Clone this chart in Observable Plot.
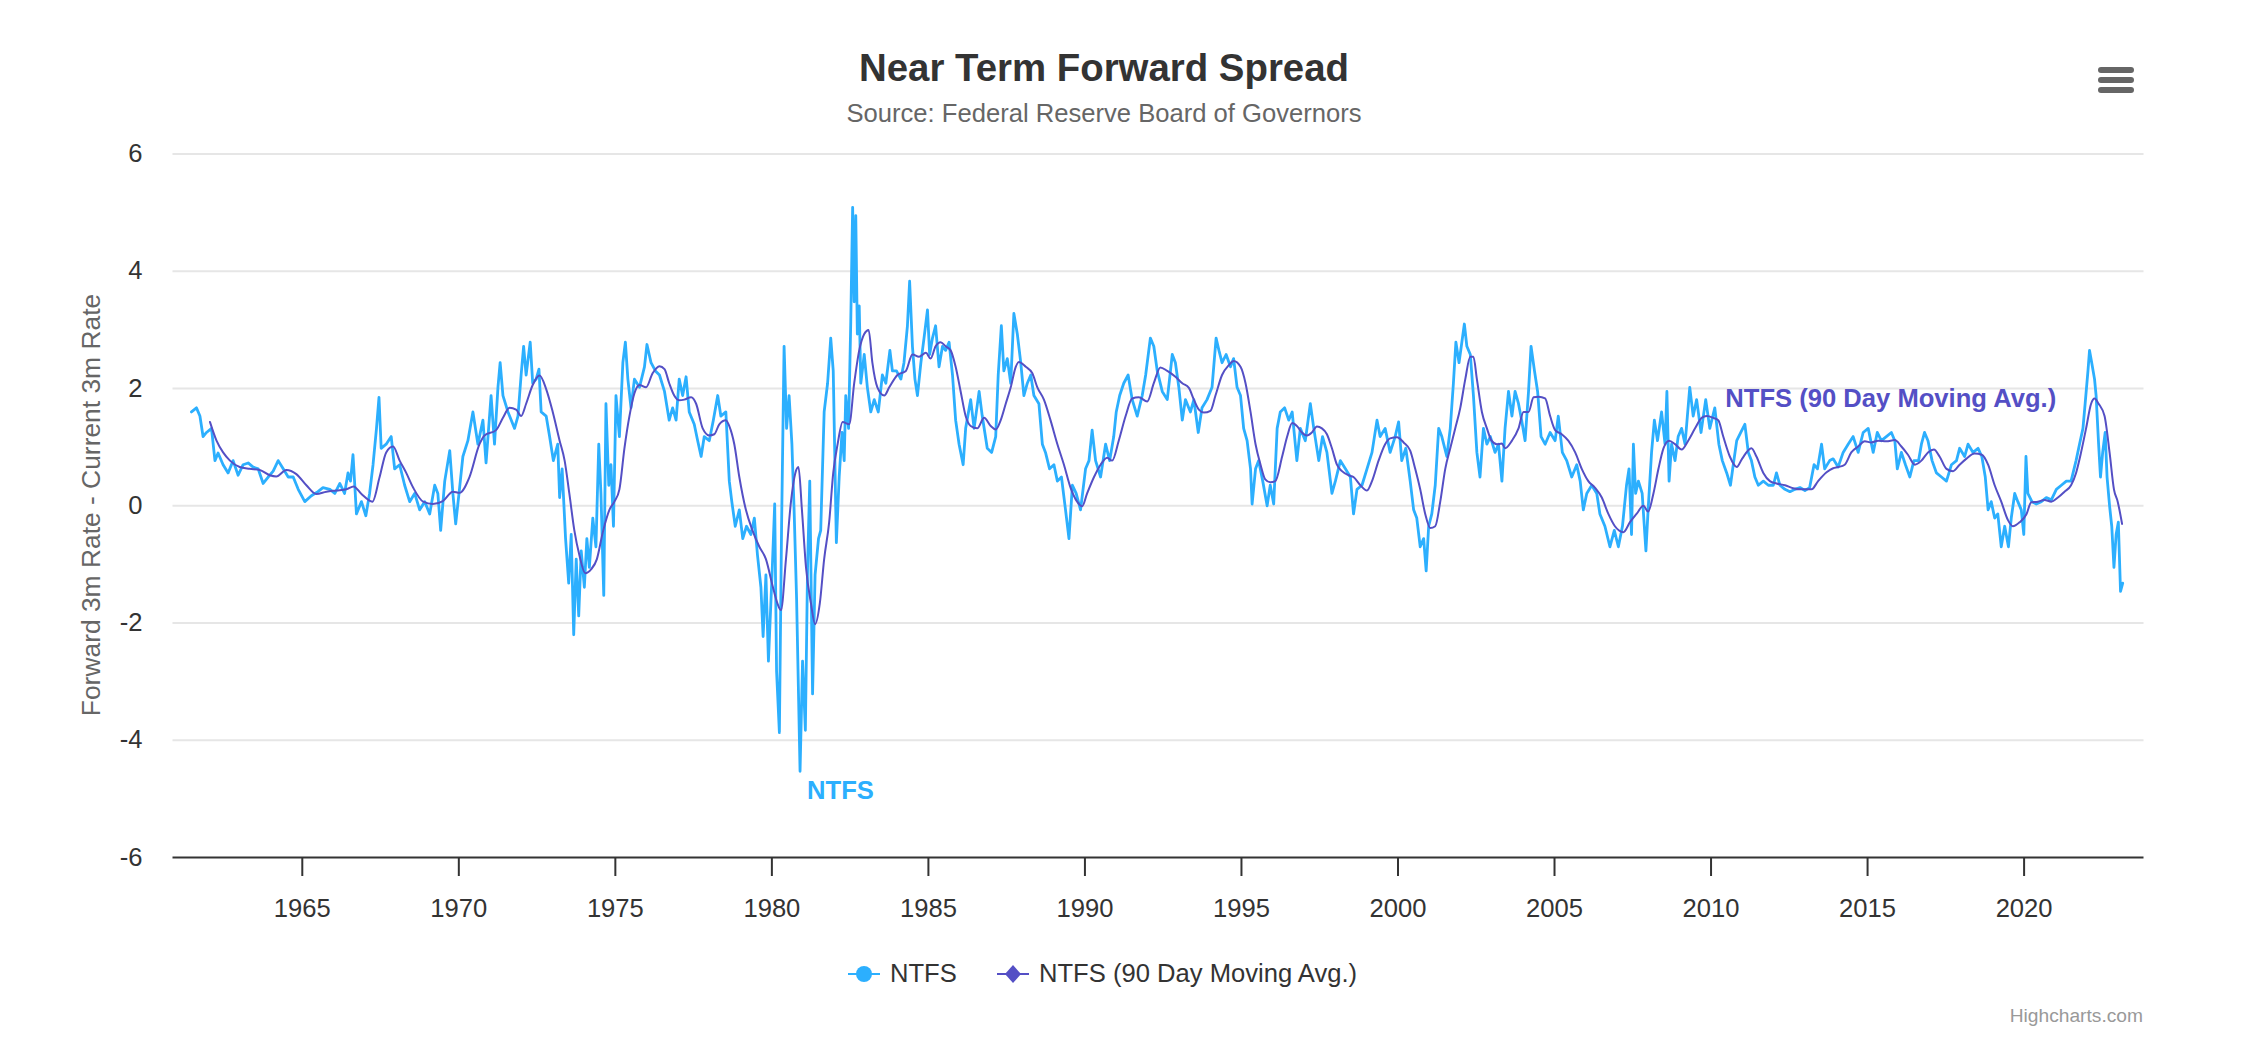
<!DOCTYPE html>
<html>
<head>
<meta charset="utf-8">
<script src="https://cdn.jsdelivr.net/npm/d3@7"></script>
<script src="https://cdn.jsdelivr.net/npm/@observablehq/plot@0.6"></script>
<style>
  html, body { margin: 0; padding: 0; background: #fff; overflow: hidden; }
  #wrap { position: relative; width: 2252px; height: 1038px; overflow: hidden;
          font-family: "Liberation Sans", Arial, Helvetica, sans-serif; }
  .abs { position: absolute; white-space: nowrap; line-height: 1; }
  #title { left: 0; width: 2208px; top: 49px; text-align: center; font-size: 38.4px; font-weight: bold; color: #333; }
  #subtitle { left: 0; width: 2208px; top: 101px; text-align: center; font-size: 25.6px; color: #666; }
  #ytitle { left: 91px; top: 505px; font-size: 26.4px; color: #666; transform: translate(-50%, -50%) rotate(-90deg); }
  #chart { position: absolute; left: 0; top: 130px; }
  .legtext { font-size: 25.6px; color: #333; top: 961px; }
  #credits { right: 109px; top: 1006px; font-size: 19.2px; color: #999; }
  .bar { position: absolute; left: 2098px; width: 36px; height: 6px; border-radius: 3px; background: #666; }
</style>
</head>
<body>
<div id="wrap">
  <div id="title" class="abs">Near Term Forward Spread</div>
  <div id="subtitle" class="abs">Source: Federal Reserve Board of Governors</div>
  <div id="ytitle" class="abs">Forward 3m Rate - Current 3m Rate</div>
  <div class="bar" style="top:67px"></div>
  <div class="bar" style="top:77px"></div>
  <div class="bar" style="top:87px"></div>
  <div id="chart"></div>
  <svg class="abs" style="left:847px;top:962px" width="34" height="24">
    <line x1="1" y1="12" x2="33" y2="12" stroke="#2caffe" stroke-width="2"/>
    <circle cx="17" cy="12" r="8" fill="#2caffe"/>
  </svg>
  <div class="abs legtext" style="left:890px">NTFS</div>
  <svg class="abs" style="left:996px;top:962px" width="34" height="24">
    <line x1="1" y1="12" x2="33" y2="12" stroke="#544fc5" stroke-width="2"/>
    <path d="M17 3 L25 12 L17 21 L9 12 Z" fill="#544fc5"/>
  </svg>
  <div class="abs legtext" style="left:1039px">NTFS (90 Day Moving Avg.)</div>
  <div id="credits" class="abs">Highcharts.com</div>
</div>
<script>
// ---- data: [decimal year, value] ----
const ntfs = [
[1961.46,1.60],[1961.62,1.67],[1961.73,1.53],[1961.83,1.18],[1961.94,1.25],[1962.10,1.32],[1962.21,0.77],[1962.31,0.90],
[1962.47,0.70],[1962.63,0.56],[1962.79,0.77],[1962.95,0.52],[1963.11,0.70],[1963.27,0.73],[1963.43,0.66],[1963.59,0.63],
[1963.75,0.38],[1963.91,0.49],[1964.07,0.59],[1964.23,0.77],[1964.39,0.63],[1964.55,0.49],[1964.71,0.49],[1964.87,0.28],
[1965.08,0.07],[1965.29,0.17],[1965.50,0.24],[1965.66,0.31],[1965.88,0.28],[1966.04,0.21],[1966.20,0.38],[1966.35,0.21],
[1966.46,0.56],[1966.54,0.42],[1966.62,0.87],[1966.73,-0.14],[1966.89,0.07],[1967.03,-0.17],[1967.15,0.21],[1967.26,0.70],
[1967.37,1.32],[1967.45,1.85],[1967.52,0.98],[1967.68,1.05],[1967.84,1.18],[1967.95,0.63],[1968.11,0.70],[1968.27,0.35],
[1968.43,0.07],[1968.59,0.21],[1968.75,-0.07],[1968.91,0.07],[1969.07,-0.14],[1969.23,0.35],[1969.33,0.21],[1969.42,-0.42],
[1969.55,0.42],[1969.71,0.94],[1969.81,0.21],[1969.90,-0.31],[1970.02,0.28],[1970.13,0.84],[1970.29,1.11],[1970.45,1.60],
[1970.61,1.05],[1970.77,1.46],[1970.87,0.73],[1971.03,1.88],[1971.14,1.05],[1971.25,2.02],[1971.32,2.44],[1971.41,1.88],
[1971.57,1.60],[1971.78,1.32],[1971.89,1.53],[1971.99,2.23],[1972.07,2.72],[1972.15,2.23],[1972.28,2.79],[1972.36,2.09],
[1972.47,2.16],[1972.56,2.33],[1972.63,1.60],[1972.79,1.53],[1972.90,1.18],[1973.02,0.77],[1973.16,1.05],[1973.22,0.14],
[1973.30,0.63],[1973.41,-0.56],[1973.51,-1.32],[1973.59,-0.49],[1973.67,-2.20],[1973.75,-0.91],[1973.83,-1.88],[1973.91,-0.77],
[1974.01,-1.39],[1974.09,-0.56],[1974.17,-1.05],[1974.28,-0.21],[1974.38,-0.70],[1974.47,1.05],[1974.54,0.21],[1974.63,-1.53],
[1974.70,1.74],[1974.79,0.35],[1974.86,0.70],[1974.94,-0.35],[1975.02,1.88],[1975.13,1.18],[1975.24,2.44],[1975.32,2.79],
[1975.40,2.16],[1975.50,1.67],[1975.61,2.16],[1975.77,2.02],[1975.93,2.37],[1976.01,2.75],[1976.14,2.44],[1976.28,2.30],
[1976.41,2.23],[1976.57,1.95],[1976.72,1.46],[1976.83,1.67],[1976.94,1.46],[1977.04,2.16],[1977.15,1.88],[1977.26,2.20],
[1977.36,1.60],[1977.52,1.39],[1977.63,1.11],[1977.74,0.84],[1977.84,1.18],[1978.00,1.11],[1978.13,1.46],[1978.27,1.88],
[1978.37,1.53],[1978.53,1.60],[1978.64,0.42],[1978.72,0.07],[1978.83,-0.35],[1978.96,-0.07],[1979.07,-0.56],[1979.19,-0.35],
[1979.33,-0.49],[1979.44,-0.21],[1979.54,-0.84],[1979.65,-1.39],[1979.72,-2.23],[1979.81,-1.18],[1979.89,-2.65],[1980.00,-1.25],
[1980.09,0.03],[1980.15,-2.82],[1980.24,-3.87],[1980.31,-0.35],[1980.39,2.72],[1980.47,1.32],[1980.55,1.88],[1980.64,1.05],
[1980.71,-0.07],[1980.79,-1.60],[1980.90,-4.53],[1980.98,-2.65],[1981.07,-3.83],[1981.14,-1.05],[1981.21,0.42],[1981.30,-3.21],
[1981.38,-1.18],[1981.49,-0.56],[1981.56,-0.42],[1981.67,1.60],[1981.78,2.09],[1981.88,2.86],[1981.96,2.30],[1982.06,-0.63],
[1982.15,0.49],[1982.24,1.25],[1982.31,0.77],[1982.36,1.88],[1982.45,1.32],[1982.52,3.14],[1982.58,5.09],[1982.63,3.48],
[1982.68,4.95],[1982.73,2.93],[1982.79,3.41],[1982.84,2.09],[1982.95,2.58],[1983.05,2.02],[1983.16,1.60],[1983.27,1.81],
[1983.40,1.60],[1983.53,2.23],[1983.64,2.09],[1983.77,2.65],[1983.85,2.30],[1983.98,2.30],[1984.12,2.16],[1984.22,2.44],
[1984.33,3.07],[1984.40,3.83],[1984.49,2.72],[1984.57,2.16],[1984.65,1.88],[1984.76,2.44],[1984.86,2.86],[1984.97,3.34],
[1985.04,2.58],[1985.13,2.86],[1985.23,3.07],[1985.34,2.37],[1985.45,2.72],[1985.55,2.65],[1985.66,2.79],[1985.77,2.23],
[1985.87,1.46],[1985.98,1.05],[1986.11,0.70],[1986.19,1.32],[1986.35,1.81],[1986.46,1.32],[1986.62,1.95],[1986.72,1.53],
[1986.88,0.98],[1987.02,0.91],[1987.15,1.18],[1987.23,2.23],[1987.33,3.07],[1987.41,2.30],[1987.52,2.51],[1987.63,2.09],
[1987.73,3.28],[1987.84,2.93],[1987.95,2.44],[1988.05,1.88],[1988.16,2.09],[1988.27,2.23],[1988.37,1.88],[1988.53,1.74],
[1988.64,1.05],[1988.74,0.91],[1988.87,0.63],[1989.01,0.70],[1989.12,0.42],[1989.25,0.49],[1989.38,-0.07],[1989.49,-0.56],
[1989.60,0.35],[1989.72,0.21],[1989.86,-0.07],[1990.02,0.63],[1990.13,0.77],[1990.23,1.29],[1990.34,0.77],[1990.50,0.49],
[1990.66,1.05],[1990.79,0.77],[1990.92,1.18],[1991.00,1.60],[1991.11,1.88],[1991.24,2.09],[1991.38,2.23],[1991.51,1.81],
[1991.67,1.53],[1991.83,1.88],[1991.94,2.23],[1992.09,2.86],[1992.20,2.72],[1992.31,2.30],[1992.47,1.95],[1992.63,1.81],
[1992.79,2.58],[1992.89,2.44],[1993.00,2.02],[1993.11,1.46],[1993.21,1.81],[1993.37,1.60],[1993.48,1.81],[1993.62,1.25],
[1993.74,1.67],[1993.90,1.81],[1994.06,2.02],[1994.19,2.86],[1994.28,2.65],[1994.38,2.44],[1994.51,2.58],[1994.65,2.37],
[1994.75,2.51],[1994.86,2.02],[1994.97,1.88],[1995.07,1.32],[1995.18,1.11],[1995.29,0.63],[1995.34,0.03],[1995.45,0.63],
[1995.55,0.77],[1995.68,0.42],[1995.82,0.00],[1995.92,0.35],[1996.03,0.03],[1996.14,1.32],[1996.24,1.60],[1996.38,1.67],
[1996.51,1.46],[1996.62,1.60],[1996.77,0.77],[1996.88,1.32],[1997.04,1.11],[1997.20,1.74],[1997.31,1.32],[1997.47,0.77],
[1997.59,1.18],[1997.73,0.91],[1997.89,0.21],[1998.00,0.42],[1998.16,0.77],[1998.32,0.63],[1998.48,0.49],[1998.58,-0.14],
[1998.69,0.28],[1998.85,0.35],[1999.01,0.63],[1999.17,0.91],[1999.33,1.46],[1999.43,1.18],[1999.59,1.32],[1999.75,0.91],
[1999.91,1.18],[2000.02,1.43],[2000.12,0.77],[2000.25,0.98],[2000.39,0.42],[2000.50,-0.07],[2000.60,-0.21],[2000.71,-0.70],
[2000.82,-0.56],[2000.90,-1.11],[2000.98,-0.35],[2001.08,-0.14],[2001.19,0.35],[2001.30,1.32],[2001.40,1.18],[2001.56,0.84],
[2001.67,1.32],[2001.77,2.09],[2001.85,2.79],[2001.95,2.44],[2002.04,2.79],[2002.12,3.10],[2002.20,2.72],[2002.31,2.58],
[2002.41,1.88],[2002.52,0.91],[2002.62,0.49],[2002.73,1.32],[2002.84,1.05],[2002.95,1.18],[2003.10,0.91],[2003.21,1.05],
[2003.32,0.42],[2003.42,1.32],[2003.53,1.95],[2003.64,1.53],[2003.74,1.95],[2003.85,1.74],[2003.95,1.46],[2004.06,1.11],
[2004.17,1.95],[2004.25,2.72],[2004.36,2.30],[2004.46,1.95],[2004.57,1.18],[2004.70,1.05],[2004.86,1.25],[2005.02,1.11],
[2005.12,1.53],[2005.25,0.91],[2005.39,0.77],[2005.55,0.49],[2005.71,0.70],[2005.82,0.42],[2005.92,-0.07],[2006.03,0.21],
[2006.19,0.35],[2006.35,0.21],[2006.45,-0.14],[2006.61,-0.35],[2006.77,-0.70],[2006.91,-0.42],[2007.04,-0.70],[2007.17,-0.35],
[2007.30,0.35],[2007.38,0.63],[2007.46,-0.49],[2007.52,1.05],[2007.59,0.21],[2007.68,0.42],[2007.80,0.21],[2007.92,-0.77],
[2007.99,-0.07],[2008.10,0.91],[2008.19,1.46],[2008.29,1.11],[2008.42,1.60],[2008.53,1.05],[2008.59,1.95],[2008.66,0.42],
[2008.74,1.05],[2008.85,0.77],[2008.95,1.18],[2009.06,1.32],[2009.17,1.05],[2009.32,2.02],[2009.43,1.53],[2009.54,1.81],
[2009.68,1.25],[2009.83,1.81],[2009.96,1.32],[2010.12,1.67],[2010.25,1.05],[2010.36,0.77],[2010.50,0.56],[2010.62,0.35],
[2010.71,0.70],[2010.82,1.11],[2010.95,1.25],[2011.08,1.39],[2011.19,0.91],[2011.29,0.77],[2011.40,0.49],[2011.51,0.35],
[2011.67,0.42],[2011.83,0.35],[2011.99,0.35],[2012.09,0.56],[2012.20,0.35],[2012.36,0.28],[2012.52,0.24],[2012.68,0.28],
[2012.84,0.31],[2013.00,0.26],[2013.15,0.31],[2013.29,0.70],[2013.40,0.63],[2013.53,1.05],[2013.63,0.63],[2013.79,0.77],
[2013.90,0.80],[2014.06,0.66],[2014.22,0.91],[2014.38,1.05],[2014.54,1.18],[2014.70,0.91],[2014.86,1.25],[2015.02,1.32],
[2015.18,0.91],[2015.31,1.25],[2015.44,1.11],[2015.60,1.18],[2015.76,1.25],[2015.87,1.11],[2015.95,0.63],[2016.08,0.91],
[2016.21,0.70],[2016.35,0.49],[2016.48,0.77],[2016.63,0.77],[2016.72,1.05],[2016.82,1.25],[2016.93,1.11],[2017.06,0.77],
[2017.20,0.56],[2017.36,0.49],[2017.52,0.42],[2017.68,0.70],[2017.84,0.77],[2017.94,0.98],[2018.10,0.84],[2018.21,1.05],
[2018.37,0.91],[2018.53,0.98],[2018.65,0.84],[2018.76,0.49],[2018.85,-0.07],[2018.95,0.07],[2019.06,-0.21],[2019.16,-0.14],
[2019.27,-0.70],[2019.38,-0.35],[2019.50,-0.70],[2019.59,-0.21],[2019.70,0.21],[2019.80,0.07],[2019.91,-0.07],[2019.99,-0.49],
[2020.06,0.84],[2020.12,0.21],[2020.25,0.07],[2020.39,0.03],[2020.55,0.07],[2020.71,0.14],[2020.87,0.10],[2021.03,0.28],
[2021.19,0.35],[2021.35,0.42],[2021.50,0.42],[2021.66,0.77],[2021.77,1.05],[2021.88,1.32],[2021.95,1.74],[2022.04,2.30],
[2022.09,2.65],[2022.16,2.44],[2022.25,2.16],[2022.30,1.88],[2022.38,1.05],[2022.44,0.49],[2022.51,0.91],[2022.59,1.25],
[2022.65,0.49],[2022.73,0.00],[2022.80,-0.35],[2022.87,-1.05],[2022.94,-0.49],[2023.01,-0.28],[2023.08,-1.46],[2023.15,-1.32]
];
const ntfsAvg = [
[1962.05,1.43],[1962.26,1.11],[1962.47,0.91],[1962.69,0.77],[1963.00,0.66],[1963.32,0.63],[1963.64,0.61],[1963.96,0.52],
[1964.17,0.50],[1964.49,0.61],[1964.81,0.54],[1965.13,0.35],[1965.45,0.20],[1965.77,0.24],[1966.09,0.26],[1966.41,0.28],
[1966.64,0.33],[1966.89,0.20],[1967.24,0.07],[1967.47,0.49],[1967.68,0.91],[1967.90,1.01],[1968.11,0.77],[1968.32,0.56],
[1968.54,0.31],[1968.86,0.07],[1969.17,0.03],[1969.49,0.08],[1969.81,0.24],[1970.02,0.22],[1970.34,0.49],[1970.66,1.05],
[1970.82,1.20],[1971.19,1.29],[1971.41,1.50],[1971.62,1.67],[1971.83,1.64],[1971.99,1.53],[1972.15,1.74],[1972.36,2.06],
[1972.58,2.22],[1972.79,1.99],[1973.00,1.60],[1973.22,1.11],[1973.38,0.77],[1973.53,0.21],[1973.69,-0.42],[1973.85,-0.84],
[1974.04,-1.15],[1974.23,-1.08],[1974.41,-0.91],[1974.60,-0.45],[1974.81,-0.07],[1974.97,0.07],[1975.13,0.28],[1975.29,0.98],
[1975.45,1.53],[1975.61,1.92],[1975.77,2.06],[1975.98,2.02],[1976.19,2.26],[1976.41,2.38],[1976.57,2.33],[1976.72,2.09],
[1976.88,1.88],[1977.04,1.80],[1977.20,1.81],[1977.42,1.85],[1977.58,1.74],[1977.79,1.32],[1978.00,1.20],[1978.16,1.22],
[1978.32,1.39],[1978.53,1.46],[1978.64,1.36],[1978.80,1.05],[1978.96,0.49],[1979.17,-0.07],[1979.38,-0.42],[1979.60,-0.70],
[1979.81,-0.91],[1980.02,-1.36],[1980.18,-1.67],[1980.29,-1.78],[1980.45,-0.91],[1980.61,0.07],[1980.75,0.56],[1980.85,0.66],
[1980.96,-0.07],[1981.09,-1.05],[1981.25,-1.67],[1981.38,-2.02],[1981.53,-1.67],[1981.67,-0.91],[1981.83,-0.28],[1981.96,0.56],
[1982.10,1.05],[1982.26,1.43],[1982.47,1.39],[1982.63,2.09],[1982.79,2.65],[1982.95,2.93],[1983.09,3.00],[1983.21,2.44],
[1983.37,2.02],[1983.59,1.88],[1983.75,2.02],[1984.01,2.23],[1984.28,2.30],[1984.49,2.58],[1984.70,2.54],[1984.92,2.61],
[1985.07,2.51],[1985.23,2.72],[1985.39,2.79],[1985.55,2.72],[1985.71,2.65],[1985.87,2.37],[1986.03,1.95],[1986.19,1.53],
[1986.35,1.36],[1986.56,1.32],[1986.78,1.50],[1986.99,1.36],[1987.15,1.30],[1987.31,1.46],[1987.47,1.74],[1987.63,2.02],
[1987.79,2.37],[1987.89,2.45],[1988.11,2.37],[1988.32,2.26],[1988.48,2.02],[1988.69,1.81],[1988.90,1.46],[1989.12,1.05],
[1989.33,0.70],[1989.54,0.31],[1989.75,0.07],[1989.91,-0.01],[1990.07,0.21],[1990.29,0.49],[1990.50,0.70],[1990.71,0.82],
[1990.87,0.77],[1991.08,1.11],[1991.30,1.53],[1991.51,1.83],[1991.72,1.85],[1991.99,1.78],[1992.20,2.09],[1992.41,2.36],
[1992.63,2.30],[1992.89,2.20],[1993.11,2.09],[1993.32,2.01],[1993.48,1.81],[1993.64,1.64],[1993.80,1.59],[1994.01,1.62],
[1994.17,1.88],[1994.38,2.23],[1994.60,2.40],[1994.75,2.47],[1994.97,2.37],[1995.13,2.09],[1995.29,1.60],[1995.45,1.05],
[1995.61,0.70],[1995.76,0.45],[1995.92,0.40],[1996.08,0.42],[1996.30,0.84],[1996.46,1.18],[1996.62,1.41],[1996.77,1.36],
[1996.93,1.25],[1997.09,1.20],[1997.25,1.25],[1997.41,1.35],[1997.57,1.32],[1997.73,1.22],[1997.89,0.98],[1998.05,0.70],
[1998.21,0.59],[1998.42,0.52],[1998.58,0.49],[1998.80,0.35],[1999.01,0.26],[1999.17,0.42],[1999.38,0.77],[1999.59,1.05],
[1999.75,1.15],[1999.97,1.17],[2000.18,1.08],[2000.39,0.94],[2000.55,0.63],[2000.71,0.28],[2000.87,-0.14],[2001.03,-0.38],
[2001.19,-0.35],[2001.35,0.07],[2001.51,0.63],[2001.67,0.98],[2001.83,1.32],[2001.99,1.67],[2002.15,2.16],[2002.31,2.54],
[2002.41,2.54],[2002.52,2.16],[2002.68,1.60],[2002.84,1.32],[2002.99,1.11],[2003.16,1.05],[2003.32,1.06],[2003.42,0.98],
[2003.64,1.11],[2003.85,1.32],[2004.01,1.60],[2004.17,1.60],[2004.33,1.85],[2004.49,1.86],[2004.70,1.83],[2004.86,1.53],
[2005.02,1.29],[2005.23,1.22],[2005.44,1.11],[2005.66,0.91],[2005.87,0.63],[2006.08,0.42],[2006.29,0.31],[2006.51,0.14],
[2006.72,-0.14],[2006.93,-0.35],[2007.20,-0.45],[2007.41,-0.28],[2007.62,-0.14],[2007.84,0.00],[2007.99,-0.10],[2008.16,0.21],
[2008.32,0.63],[2008.48,0.98],[2008.66,1.11],[2008.85,1.05],[2009.06,0.96],[2009.27,1.11],[2009.49,1.32],[2009.70,1.50],
[2009.86,1.53],[2010.07,1.50],[2010.23,1.46],[2010.39,1.18],[2010.60,0.84],[2010.82,0.66],[2010.99,0.80],[2011.29,0.98],
[2011.45,0.84],[2011.67,0.56],[2011.88,0.42],[2012.09,0.38],[2012.36,0.35],[2012.62,0.30],[2012.89,0.28],[2013.21,0.28],
[2013.42,0.42],[2013.69,0.57],[2013.90,0.64],[2014.06,0.66],[2014.27,0.70],[2014.48,0.91],[2014.70,1.01],[2014.91,1.10],
[2015.12,1.08],[2015.34,1.11],[2015.60,1.10],[2015.87,1.12],[2016.08,1.01],[2016.29,0.87],[2016.51,0.70],[2016.72,0.77],
[2016.93,0.91],[2017.12,0.96],[2017.30,0.84],[2017.52,0.63],[2017.73,0.59],[2017.94,0.70],[2018.15,0.80],[2018.42,0.89],
[2018.65,0.87],[2018.85,0.70],[2019.06,0.35],[2019.27,0.07],[2019.48,-0.24],[2019.64,-0.35],[2019.86,-0.28],[2020.07,-0.15],
[2020.23,0.06],[2020.44,0.07],[2020.65,0.10],[2020.87,0.07],[2021.08,0.14],[2021.29,0.24],[2021.50,0.35],[2021.66,0.56],
[2021.82,0.91],[2021.98,1.32],[2022.14,1.74],[2022.25,1.83],[2022.38,1.74],[2022.57,1.53],[2022.73,0.91],[2022.87,0.28],
[2022.99,0.07],[2023.13,-0.31]
];
const xTicks = [1965, 1970, 1975, 1980, 1985, 1990, 1995, 2000, 2005, 2010, 2015, 2020];
const yTicks = [-6, -4, -2, 0, 2, 4, 6];
const seriesNames = ["NTFS", "NTFS (90 Day Moving Avg.)"];
const seriesColors = ["#2caffe", "#544fc5"];
const labelYears = [1982.19, 2015.74];
const labelValues = [-4.87, 1.82];

const rows1 = ntfs.map(([year, value]) => ({year, value}));
const rows2 = ntfsAvg.map(([year, value]) => ({year, value}));
const labels = seriesNames.map((name, i) => ({name, year: labelYears[i], value: labelValues[i], color: seriesColors[i]}));

const chart = Plot.plot({
  width: 2252,
  height: 820,
  marginLeft: 172.5,
  marginRight: 108.5,
  marginTop: 23.5,
  marginBottom: 93,
  style: {fontFamily: '"Liberation Sans", Arial, Helvetica, sans-serif', background: "transparent", overflow: "visible"},
  x: {domain: [1960.87, 2023.83]},
  y: {domain: [-6, 6]},
  marks: [
    Plot.ruleY(yTicks.filter(d => d > -6), {stroke: "#e6e6e6", strokeWidth: 2}),
    Plot.axisY({ticks: yTicks, tickSize: 0, tickPadding: 30.5, fontSize: "25.6px", color: "#333", label: null, tickFormat: d => String(d)}),
    Plot.line(rows1, {x: "year", y: "value", stroke: seriesColors[0], strokeWidth: 2.8, strokeLinejoin: "round"}),
    Plot.line(rows2, {x: "year", y: "value", stroke: seriesColors[1], strokeWidth: 2, curve: "monotone-x"}),
    Plot.ruleY([-6], {stroke: "#333", strokeWidth: 2}),
    Plot.axisX({ticks: xTicks, tickSize: 19, tickPadding: 22, fontSize: "25.6px", color: "#333", strokeWidth: 2, label: null, tickFormat: d => String(d)}),
    Plot.text(labels, {x: "year", y: "value", text: "name", fill: "color", fontSize: "25.6px", fontWeight: "bold", textAnchor: "middle", lineAnchor: "middle"})
  ]
});
document.getElementById("chart").appendChild(chart);
</script>
</body>
</html>
